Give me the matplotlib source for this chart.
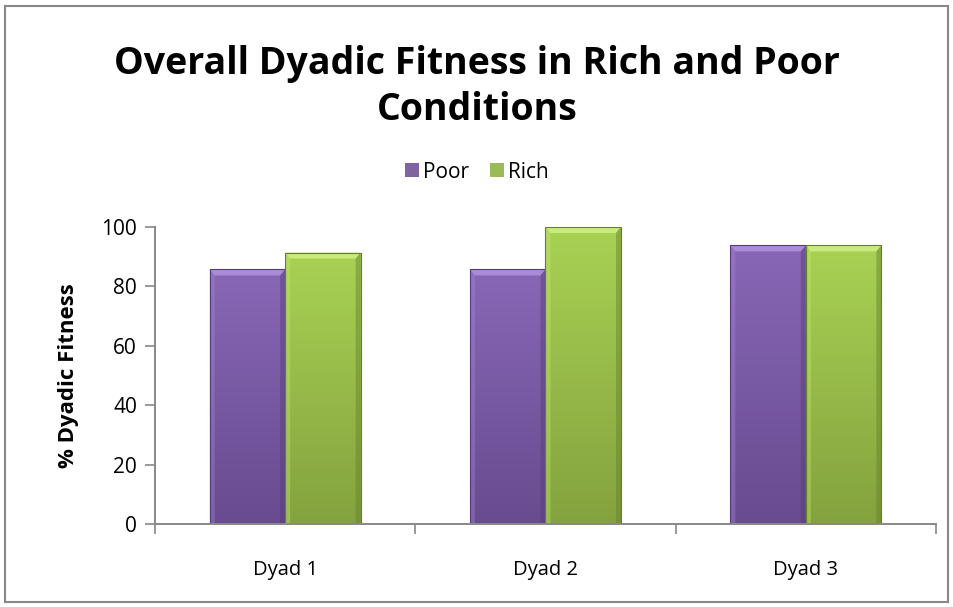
import numpy as np
import matplotlib
matplotlib.use("Agg")
import matplotlib.pyplot as plt
from matplotlib.patches import Polygon, Rectangle
from matplotlib.colors import LinearSegmentedColormap

plt.rcParams['font.family'] = ['Open Sans', 'DejaVu Sans']

dyads = ['Dyad 1', 'Dyad 2', 'Dyad 3']
poor = [85.7, 85.7, 93.8]
rich = [91.4, 100.0, 93.8]
series = ['Poor', 'Rich']

purple = '#8064A2'
green = '#9BBB59'
# top, bottom, top bevel, right edge
shades = {
    purple: ('#8867B6', '#684B90', '#A98BD8', '#553C78'),
    green: ('#A9D254', '#84A23E', '#C9EA7C', '#657F2C'),
}

fig = plt.figure(figsize=(9.54, 6.07), dpi=100)
ax = fig.add_axes([155/954, 1 - 524/607, 781/954, 297/607])

x = np.arange(len(dyads))
w = 0.29
b1 = ax.bar(x - w/2, poor, w, color=purple, label='Poor', zorder=2)
b2 = ax.bar(x + w/2, rich, w, color=green, label='Rich', zorder=2)

ax.set_xlim(-0.5, 2.5)
ax.set_ylim(0, 100)

# pixel -> data scale for the bevel decoration
px_x = 1.0 / 260
px_y = 100.0 / 297


def bevel(bar, color):
    top_c, bot_c, hi_c, edge_c = shades[color]
    x0 = bar.get_x()
    x1 = x0 + bar.get_width()
    h = bar.get_height()
    cmap = LinearSegmentedColormap.from_list('g', [bot_c, top_c])
    grad = np.linspace(0, 1, 256).reshape(-1, 1)
    im = ax.imshow(grad, extent=[x0, x1, 0, h], origin='lower', cmap=cmap,
                   aspect='auto', zorder=2.1)
    im.set_clip_path(bar)
    bx = 5 * px_x
    by = 6 * px_y
    # top bevel
    ax.add_patch(Polygon([[x0, h], [x1, h], [x1 - bx, h - by], [x0 + bx, h - by]],
                         closed=True, facecolor=hi_c, edgecolor='none', zorder=2.2))
    # side bevels
    ax.add_patch(Polygon([[x0, h], [x0 + bx, h - by], [x0 + bx, 0], [x0, 0]],
                         closed=True, facecolor=hi_c, alpha=0.35,
                         edgecolor='none', zorder=2.2))
    ax.add_patch(Polygon([[x1, h], [x1 - bx, h - by], [x1 - bx, 0], [x1, 0]],
                         closed=True, facecolor=edge_c, alpha=0.45,
                         edgecolor='none', zorder=2.2))
    ax.add_patch(Rectangle((x0, 0), x1 - x0, h, fill=False,
                           edgecolor=edge_c, linewidth=0.8, zorder=2.3))


for bar in b1:
    bevel(bar, purple)
for bar in b2:
    bevel(bar, green)

ax.set_xticks(x)
ax.set_xticklabels(dyads, fontsize=14.5)
ax.set_xticks([-0.5, 0.5, 1.5, 2.5], minor=True)
ax.tick_params(axis='x', which='major', length=0, pad=26)
ax.tick_params(axis='x', which='minor', length=7, width=1.2, color='#888888')
ax.set_yticks([0, 20, 40, 60, 80, 100])
ax.tick_params(axis='y', labelsize=15, length=7, width=1.2, color='#888888', pad=6)

for s in ['top', 'right']:
    ax.spines[s].set_visible(False)
for s in ['left', 'bottom']:
    ax.spines[s].set_color('#888888')
    ax.spines[s].set_linewidth(1.4)
ax.spines['bottom'].set_zorder(3)

ax.set_ylabel('% Dyadic Fitness', fontsize=16, fontweight='bold', labelpad=16)

fig.text(0.5, 1 - 87/607, 'Overall Dyadic Fitness in Rich and Poor\nConditions',
         ha='center', va='center', fontsize=27, fontweight='bold',
         linespacing=1.25)

leg = fig.legend(handles=[b1, b2], labels=series, loc='center',
                 bbox_to_anchor=(0.5, 1 - 172/607), ncol=2, frameon=False,
                 fontsize=15, handlelength=0.65, handleheight=0.65,
                 handletextpad=0.2, columnspacing=1.0)

fig.add_artist(Rectangle((5/954, 5/607), 943/954, 596/607, transform=fig.transFigure,
                         fill=False, edgecolor='#888888', linewidth=1.5))

fig.savefig('out.png', dpi=100)
